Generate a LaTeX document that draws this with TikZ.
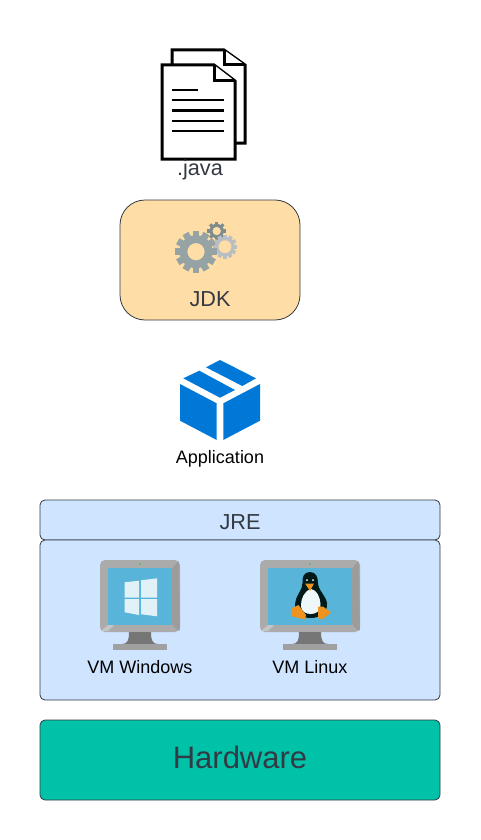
\documentclass[tikz,border=0pt]{standalone}
\usepackage{fontspec}
\setmainfont{Liberation Sans}
\definecolor{inkc}{HTML}{333A44}
\definecolor{jdkc}{HTML}{FFDDA6}
\definecolor{jrec}{HTML}{CFE4FF}
\definecolor{hwc}{HTML}{00C2A8}
\definecolor{boxc}{HTML}{0078D7}
\definecolor{screenc}{HTML}{59B4D9}
\definecolor{orangec}{HTML}{EE931E}
\definecolor{gearbigc}{HTML}{95A3A5}
\definecolor{geardarkc}{HTML}{7F8C8D}
\definecolor{gearlightc}{HTML}{B8BEC1}
\definecolor{framec}{HTML}{ABABAB}
\definecolor{frameshadec}{HTML}{9C9C9C}
\definecolor{framelitc}{HTML}{C4C4C4}
\definecolor{neckc}{HTML}{767676}
\definecolor{basec}{HTML}{A0A0A0}
\tikzset{
    panel/.style={draw=inkc, line width=.8pt, rounded corners=#1},
    panel/.default=5,
    caption/.style={text=inkc, font=\fontsize{21.7}{24}\selectfont, inner sep=0pt},
    vmlabel/.style={text=black, font=\fontsize{18}{21}\selectfont, inner sep=0pt},
    sheet/.style={draw=black, line width=3pt, fill=white, line join=miter},
    textline/.style={draw=black, line width=2.6pt},
}
% center, root radius, tip radius, hole radius, teeth, colour
\newcommand{\gearicon}[6]{
    \foreach \k in {1,...,#5}
        \fill[#6, rotate around={360/#5*\k:(#1)}] ($(#1)+(-#3*0.16,#2*0.8)$) rectangle ($(#1)+(#3*0.16,#3)$);
    \fill[#6, even odd rule] (#1) circle (#2) (#1) circle (#4);
}
% center x of a monitor, half width
\newcommand{\monitoricon}[2]{
    \fill[rounded corners=5, framec] (#1-#2,560) rectangle (#1+#2,632);
    \fill[rounded corners=3, frameshadec] (#1+#2-8,568) -- (#1+#2-1,560.5) -- (#1+#2,632) -- (#1+#2-8,625) -- cycle;
    \fill[framelitc] (#1-#2+1,631) -- (#1-#2+8,625) -- (#1-#2+14,625) -- (#1-#2+8,631) -- cycle;
    \fill[screenc] (#1-#2+6+#2/25,568) rectangle (#1+#2-6-#2/25,625);
    \fill[green!60!black!70] (#1,564) circle (.9);
    \fill[neckc] (#1-11,632) -- (#1+11,632) .. controls (#1+11,641) and (#1+13,644) .. (#1+18,644) -- (#1-18,644) .. controls (#1-13,644) and (#1-11,641) .. (#1-11,632) -- cycle;
    \fill[basec] (#1-27,644) rectangle (#1+27,650);
}
\usetikzlibrary{calc}
\begin{document}
\begin{tikzpicture}[x=1pt, y=-1pt]
    \useasboundingbox (0, 0) rectangle (480, 840);
    \fill[white] (0, 0) rectangle (480, 840);

    % source files
    \draw[sheet] (172, 65)--(172, 50)--(224, 50)--(245, 65)--(245, 143)--(235, 143);
    \draw[sheet] (224, 50)--(224, 65)--(245, 65);
    \draw[sheet] (162, 65)--(214, 65)--(235, 81)--(235, 159)--(162, 159)--cycle;
    \draw[sheet] (214, 65)--(214, 81)--(235, 81);
    \draw[textline] (172, 90)--(198, 90);
    \foreach \y in {100, 110.5, 121, 131}
        \draw[textline] (172, \y)--(224, \y);
    \node[caption] (java) at (200, 170) {.java};

    % jdk
    \draw[panel=25, fill=jdkc] (120, 200) rectangle (300, 320);
    \coordinate (gearbig) at (196, 251.7);
    \coordinate (geardark) at (216.7, 231);
    \coordinate (gearlight) at (225, 246.7);
    \gearicon{geardark}{7.2}{9.5}{4.3}{8}{geardarkc}
    \gearicon{gearlight}{9.8}{12}{6.5}{12}{gearlightc}
    \gearicon{gearbig}{16.5}{21}{8.7}{12}{gearbigc}
    \node[caption] (jdk) at (210, 299) {JDK};

    % application
    \fill[boxc] (220, 360)--(256, 378.3)--(242.3, 386)--(206, 367.3)--cycle;
    \fill[boxc] (199.3, 370.7)--(235, 390)--(220, 397.7)--(183.3, 378.3)--cycle;
    \fill[boxc] (180, 384)--(216.7, 403.3)--(216.7, 440)--(180, 420.7)--cycle;
    \fill[boxc] (223.3, 403.3)--(260, 384)--(260, 420.7)--(223.3, 440)--cycle;
    \node[vmlabel] (app) at (220, 459) {Application};

    % jre
    \draw[panel, fill=jrec] (40, 500) rectangle (440, 540);
    \node[caption] (jre) at (240, 522.5) {JRE};
    \draw[panel, fill=jrec] (40, 540) rectangle (440, 700);

    % vm windows
    \monitoricon{140}{40}
    \fill[white!82!screenc] (124.7, 582.3)--(139, 580.7)--(139, 597.7)--(124.7, 597.7)--cycle;
    \fill[white!82!screenc] (141, 580.3)--(157, 578.3)--(157, 597.7)--(141, 597.7)--cycle;
    \fill[white!82!screenc] (124.7, 599)--(139, 599)--(139, 615)--(124.7, 612.3)--cycle;
    \fill[white!82!screenc] (141, 599)--(157, 599)--(157, 616.3)--(141, 614.3)--cycle;
    \node[vmlabel] (vmwin) at (140, 667) {VM Windows};

    % vm linux
    \monitoricon{310}{50}
    \fill[black!80!teal] (310, 572) .. controls (304, 572) and (302, 577) .. (302.5, 583)
        .. controls (303, 590) and (295, 595) .. (295, 606) .. controls (295, 614) and (302, 618) .. (311, 618)
        .. controls (320, 618) and (328, 612) .. (327, 603) .. controls (326, 596) and (318, 590) .. (318, 583)
        .. controls (318, 577) and (316, 572) .. (310, 572) -- cycle;
    \fill[white!90!screenc] (311, 589) .. controls (304, 591) and (301, 599) .. (301, 605)
        .. controls (301, 612) and (306, 614) .. (311, 614) .. controls (316, 614) and (321, 611) .. (320.5, 604)
        .. controls (320, 597) and (317, 590) .. (311, 589) -- cycle;
    \fill[orangec] (305, 583.5)--(314, 583.5)--(310, 591)--cycle;
    \fill[white] (307, 580) circle (1) (313, 580) circle (1);
    \fill[orangec] (291, 608.5)--(298.5, 605)--(306, 615)--(305, 619.5)--(291, 616)--cycle;
    \fill[orangec] (318, 606.5)--(323, 606.5)--(331, 612.5)--(322, 619.5)--(318, 618)--cycle;
    \node[vmlabel] (vmlin) at (310, 667) {VM Linux};

    % hardware
    \draw[panel, fill=hwc] (40, 720) rectangle (440, 800);
    \node[caption, font=\fontsize{31}{36}\selectfont] (hw) at (240, 757) {Hardware};
\end{tikzpicture}
\end{document}
